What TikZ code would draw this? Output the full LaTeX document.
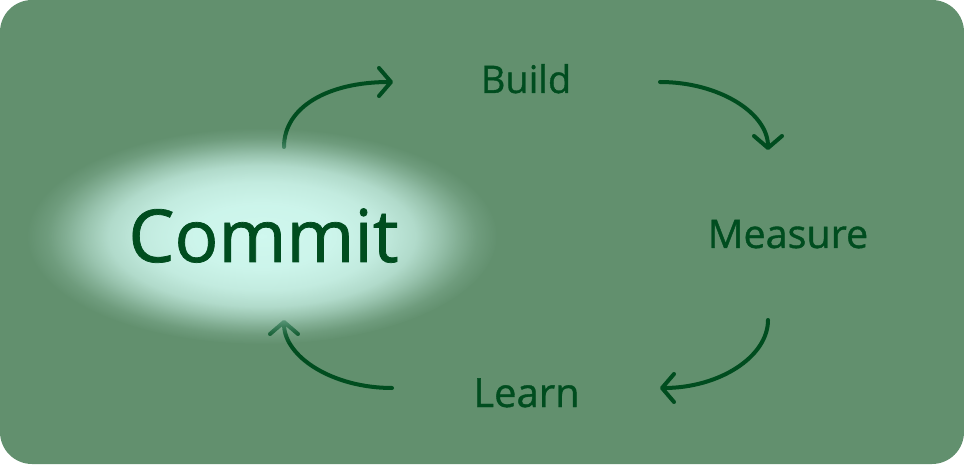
\documentclass[tikz,border=0pt]{standalone}
\usepackage{fontspec}
\setmainfont{Open Sans}[FakeBold=1]
\usetikzlibrary{arrows.meta, fadings, backgrounds}

\definecolor{cardbg}{HTML}{62906E}
\definecolor{ink}{HTML}{004D1F}
\definecolor{glowcol}{HTML}{D0F8EF}
\colorlet{fadeA}{white!97!black}
\colorlet{fadeB}{white!88!black}
\colorlet{fadeC}{white!72!black}
\colorlet{fadeD}{white!50!black}
\colorlet{fadeE}{white!30!black}
\colorlet{fadeF}{white!12!black}

\pgfdeclareradialshading{glowshade}{\pgfpointorigin}{%
  color(0bp)=(white); color(7.5bp)=(fadeA); color(12.5bp)=(fadeB);
  color(16.25bp)=(fadeC); color(18.75bp)=(fadeD); color(20.75bp)=(fadeE);
  color(22.75bp)=(fadeF); color(25bp)=(black); color(50bp)=(black)}
\pgfdeclarefading{glowfade}{\pgfuseshading{glowshade}}

\pgfdeclarelayer{glow}
\pgfsetlayers{background,glow,main}

\begin{document}
\begin{tikzpicture}[
    x=1pt, y=1pt,
    >={Straight Barb[length=12pt, width=28pt, round]},
    stage/.style ={text=ink, anchor=base, inner sep=0pt},
    cycle/.style ={->, line width=4pt, ink, line cap=round}
  ]
  \useasboundingbox (0,0) rectangle (964,464);

  % ---- stages of the loop ---------------------------------------------
  \node[stage, font=\fontsize{73}{80}\selectfont] (commit)  at (263.5,202) {Commit};
  \node[stage, font=\fontsize{38}{44}\selectfont] (build)   at (526,  371) {Build};
  \node[stage, font=\fontsize{39.5}{46}\selectfont] (measure) at (788,  216) {Measure};
  \node[stage, font=\fontsize{40}{46}\selectfont] (learn)   at (526.5, 57) {Learn};

  \begin{pgfonlayer}{background}
    % ---- card --------------------------------------------------------
    \fill[cardbg, rounded corners=32pt] (0,0) rectangle (964,464);

    % ---- arrows between stages ---------------------------------------
    \draw[cycle] ([shift={(20.5,115)}]commit.base)
      .. controls +(0,40) and +(-65,0) .. ([shift={(-133,11)}]build.base);
    \draw[cycle] ([shift={(134,11)}]build.base)
      .. controls +(59,0) and +(0,37) .. ([shift={(-20,98)}]measure.base);
    \draw[cycle] ([shift={(-20,-72)}]measure.base)
      .. controls +(0,-37) and +(59,0) .. ([shift={(133.5,19)}]learn.base);
    \draw[cycle] ([shift={(-134.5,19)}]learn.base)
      .. controls +(-59,0) and +(0,-37) .. ([shift={(20.5,-58)}]commit.base);
  \end{pgfonlayer}

  % ---- glow round Commit ------------------------------------------------
  \begin{pgfonlayer}{glow}
    \fill[glowcol, path fading=glowfade]
      ([shift={(-1.5,26)}]commit.base) ellipse [x radius=235, y radius=108];
  \end{pgfonlayer}

\end{tikzpicture}
\end{document}
